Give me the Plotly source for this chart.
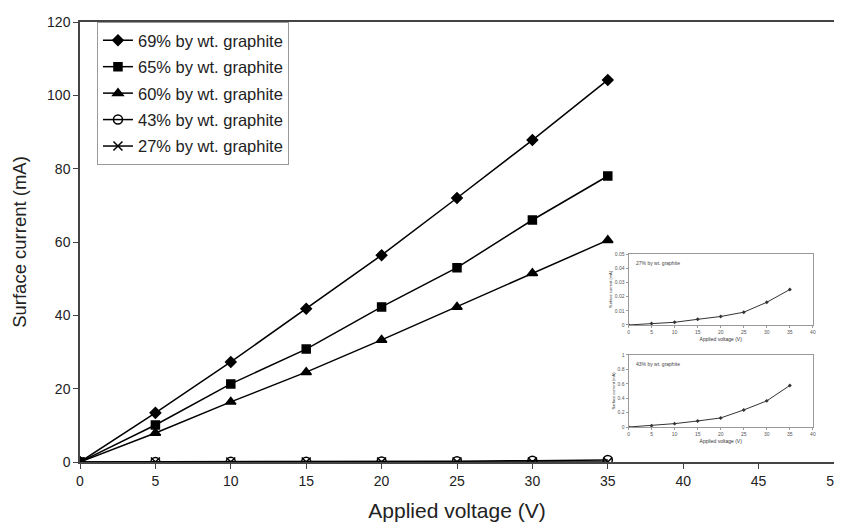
import plotly.graph_objects as go

voltage = [0, 5, 10, 15, 20, 25, 30, 35]
g69 = [0, 13.4, 27.3, 41.8, 56.4, 72.0, 87.8, 104.2]
g65 = [0, 10.1, 21.3, 30.8, 42.3, 53.0, 66.0, 78.0]
g60 = [0, 7.9, 16.4, 24.5, 33.3, 42.3, 51.5, 60.5]
g43 = [0, 0.019, 0.047, 0.084, 0.126, 0.237, 0.363, 0.577]
g27 = [0, 0.001, 0.0019, 0.004, 0.006, 0.009, 0.016, 0.025]

names = ["69% by wt. graphite", "65% by wt. graphite", "60% by wt. graphite",
         "43% by wt. graphite", "27% by wt. graphite"]
main_ticks_x = [0, 5, 10, 15, 20, 25, 30, 35, 40, 45, 50]
main_ticks_y = [0, 20, 40, 60, 80, 100, 120]
inset_ticks_x = [0, 5, 10, 15, 20, 25, 30, 35, 40]
inset1_ticks_y = [0, 0.01, 0.02, 0.03, 0.04, 0.05]
inset1_ticklabels = ["0", "0.01", "0.02", "0.03", "0.04", "0.05"]
inset2_ticks_y = [0, 0.2, 0.4, 0.6, 0.8, 1]
inset2_ticklabels = ["0", "0.2", "0.4", "0.6", "0.8", "1"]

FONT = "Liberation Sans, Arial, sans-serif"
fig = go.Figure()

series = [g69, g65, g60, g43, g27]
symbols = ["diamond", "square", "triangle-up", "circle-open", "x-thin-open"]
sizes = [8, 8, 9, 9, 9]
for i, (vals, nm, sym, sz) in enumerate(zip(series, names, symbols, sizes)):
    fig.add_trace(go.Scatter(
        x=voltage, y=vals, name=nm, mode="lines+markers", legendgroup=f"g{i}",
        line=dict(color="black", width=1.5),
        marker=dict(symbol=sym, size=sz, color="black",
                    line=dict(color="black", width=1.5)),
        xaxis="x", yaxis="y"))

# insets
fig.add_trace(go.Scatter(x=voltage, y=g27, mode="lines+markers", showlegend=False,
                         line=dict(color="#333", width=1), marker=dict(symbol="diamond", size=3, color="#333"),
                         xaxis="x2", yaxis="y2"))
fig.add_trace(go.Scatter(x=voltage, y=g43, mode="lines+markers", showlegend=False,
                         line=dict(color="#333", width=1), marker=dict(symbol="diamond", size=3, color="#333"),
                         xaxis="x3", yaxis="y3"))

inset_axis_common = dict(showgrid=False, zeroline=False, showline=True, mirror=True,
                         linecolor="#999", linewidth=1, ticks="outside", ticklen=2,
                         tickcolor="#999", tickfont=dict(family=FONT, size=5, color="#555"),
                         automargin=False)

# page body has an 8px margin; keep the figure small enough to avoid scrollbars
fig.update_layout(
    width=826, height=514,
    paper_bgcolor="white", plot_bgcolor="white",
    margin=dict(l=72, r=0, t=14, b=60, autoexpand=False),
    font=dict(family=FONT, color="black"),
    xaxis=dict(domain=[0, 1], range=[0, 50], tickvals=main_ticks_x, showgrid=False, zeroline=False,
               showline=True, mirror=True, linecolor="#444", linewidth=1.5,
               ticks="outside", ticklen=5, tickcolor="#444", automargin=False,
               ticklabeloverflow="allow",
               tickfont=dict(family=FONT, size=14, color="#222"),
               title=dict(text="Applied voltage (V)", font=dict(family=FONT, size=21, color="#222"), standoff=20)),
    yaxis=dict(domain=[0, 1], range=[0, 120], tickvals=main_ticks_y, showgrid=False, zeroline=False,
               showline=True, mirror=True, linecolor="#444", linewidth=1.5,
               ticks="outside", ticklen=5, tickcolor="#444", automargin=False,
               tickfont=dict(family=FONT, size=14, color="#222"),
               title=dict(text="Surface current (mA)", font=dict(family=FONT, size=18.5, color="#222"), standoff=16)),
    xaxis2=dict(domain=[0.7275, 0.972], range=[0, 40], tickvals=inset_ticks_x, anchor="y2",
                title=dict(text="Applied voltage (V)", font=dict(family=FONT, size=5, color="#333"), standoff=3),
                **inset_axis_common),
    yaxis2=dict(domain=[0.3114, 0.4727], range=[0, 0.05], tickvals=inset1_ticks_y, ticktext=inset1_ticklabels,
                anchor="x2",
                title=dict(text="Surface current (mA)", font=dict(family=FONT, size=4, color="#333"), standoff=2),
                **inset_axis_common),
    xaxis3=dict(domain=[0.7275, 0.972], range=[0, 40], tickvals=inset_ticks_x, anchor="y3",
                title=dict(text="Applied voltage (V)", font=dict(family=FONT, size=5, color="#333"), standoff=3),
                **inset_axis_common),
    yaxis3=dict(domain=[0.0795, 0.2432], range=[0, 1], tickvals=inset2_ticks_y, ticktext=inset2_ticklabels,
                anchor="x3",
                title=dict(text="Surface current (mA)", font=dict(family=FONT, size=4, color="#333"), standoff=2),
                **inset_axis_common),
    legend=dict(x=0.0225, y=1.0, xanchor="left", yanchor="top",
                bgcolor="white", bordercolor="#999", borderwidth=1,
                font=dict(family=FONT, size=16.5, color="#222"),
                traceorder="grouped", tracegroupgap=2, itemwidth=30),
    annotations=[
        dict(text=names[4], xref="x2 domain", yref="y2 domain", x=0.03, y=0.95,
             xanchor="left", yanchor="top", showarrow=False,
             font=dict(family=FONT, size=5, color="#444")),
        dict(text=names[3], xref="x3 domain", yref="y3 domain", x=0.03, y=0.95,
             xanchor="left", yanchor="top", showarrow=False,
             font=dict(family=FONT, size=5, color="#444")),
    ],
)

fig.write_html("out.html")
